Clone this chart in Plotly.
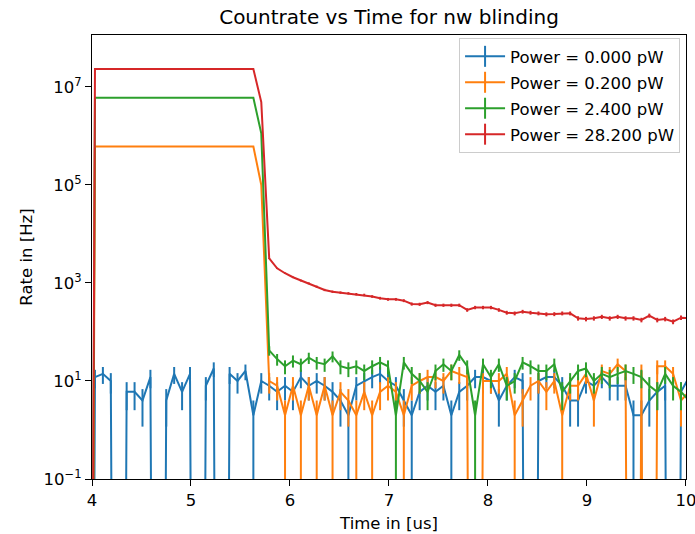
import numpy as np
import plotly.graph_objects as go

# Time bins (us): bin centres start just below 4 us and are 80 ns apart
BIN_START = 3.95
BIN_WIDTH = 0.08
HZ_PER_COUNT = 2.0          # rate contributed by a single detected count
LOG_FLOOR = 1e-30           # non-positive rates are clipped to this on the log axis

POWER_LABELS = ["Power = 0.000 pW", "Power = 0.200 pW",
                "Power = 2.400 pW", "Power = 28.200 pW"]
COLORS = ["#1f77b4", "#ff7f0e", "#2ca02c", "#d62728"]

# Detected counts per bin for each laser power
COUNTS_P0 = [0,
             6, 7, 5, 0, 3, 3, 2, 6, 0, 2, 7, 3, 7, 0, 4, 9, 0, 7, 5, 8, 1,
             5, 4, 3, 4, 3, 6, 4, 5, 4, 3, 2, 1, 4, 5, 6, 7, 5, 4, 2, 1,
             3, 4, 3, 4, 1, 3, 4, 6, 6, 5, 2, 4, 6, 5, 0, 5, 6, 6, 4, 2,
             2, 5, 4, 6, 4, 4, 4, 1, 1, 2, 3, 4, 0, 3, 6]

COUNTS_P1 = [0,
             305000, 305000, 305000, 305000, 305000, 305000, 305000,
             305000, 305000, 305000, 305000, 305000, 305000, 305000,
             305000, 305000, 305000, 305000, 305000, 305000, 305000,
             50000,
             5, 4, 1, 4, 1, 4, 1, 4, 1, 3, 2, 1, 3, 1, 3, 4, 3, 1,
             4, 5, 6, 6, 5, 8, 7, 6, 0, 5, 5, 5, 7, 1, 2, 4, 5, 3,
             5, 1, 4, 4, 7, 2, 8, 7, 11, 8, 0, 8, 0, 10, 10, 7, 2, 3]

COUNTS_P2 = [0,
             3000000, 3000000, 3000000, 3000000, 3000000, 3000000, 3000000,
             3000000, 3000000, 3000000, 3000000, 3000000, 3000000, 3000000,
             3000000, 3000000, 3000000, 3000000, 3000000, 3000000, 3000000,
             565000,
             21, 14, 10, 13, 11, 15, 12, 11, 16, 10, 9, 10, 8, 10, 12, 10,
             1, 12, 7, 5, 3, 8, 11, 8, 17, 10, 1, 11, 6, 11, 4, 5, 12, 10,
             8, 8, 11, 3, 5, 8, 9, 5, 7, 6, 7, 8, 7, 6, 4, 3, 7, 4, 3, 2]

COUNTS_P3 = [0,
             11650000, 11650000, 11650000, 11650000, 11650000, 11650000,
             11650000, 11650000, 11650000, 11650000, 11650000, 11650000,
             11650000, 11650000, 11650000, 11650000, 11650000, 11650000,
             11650000, 11650000, 11650000,
             2450000,
             1585, 995, 790, 655, 560, 492, 420, 360, 332, 318, 308, 295,
             285, 265, 245, 232, 232, 218, 186, 184, 199, 176, 176, 176,
             176, 141, 158, 158, 158, 141, 124, 120, 130, 124, 120, 115,
             116, 120, 120, 95, 92, 95, 102, 95, 102, 95, 95, 88, 108, 88,
             92, 81, 98, 95]

SERIES = [COUNTS_P0, COUNTS_P1, COUNTS_P2, COUNTS_P3]

Y_TICKS = [1e-1, 1e1, 1e3, 1e5, 1e7]
Y_TICK_TEXT = ["10<sup>\u22121</sup>", "10<sup>1</sup>", "10<sup>3</sup>",
               "10<sup>5</sup>", "10<sup>7</sup>"]
X_TICKS = [4, 5, 6, 7, 8, 9, 10]

fig = go.Figure()

for i, (counts, label, color) in enumerate(zip(SERIES, POWER_LABELS, COLORS)):
    n = np.asarray(counts, dtype=float)
    t = BIN_START + BIN_WIDTH * np.arange(n.size)
    rate = n * HZ_PER_COUNT
    err = np.sqrt(n) * HZ_PER_COUNT
    shown = np.where(rate > 0, rate, LOG_FLOOR)
    fig.add_trace(go.Scatter(
        x=t, y=shown, mode="lines",
        line=dict(color=color, width=2),
        error_y=dict(type="data", array=err, symmetric=True,
                     color=color, thickness=2, width=0),
        legendgroup=f"g{i}", showlegend=False, hoverinfo="skip",
    ))
    # legend entry: line with a vertical error-bar tick
    fig.add_trace(go.Scatter(
        x=[None], y=[None], mode="lines+markers", name=label,
        line=dict(color=color, width=2),
        marker=dict(symbol="line-ns-open", size=15,
                    line=dict(color=color, width=2)),
        legendgroup=f"g{i}", showlegend=True,
    ))

fig.update_layout(
    width=695, height=534,
    margin=dict(l=92, r=9, t=35, b=55, autoexpand=False),
    paper_bgcolor="white", plot_bgcolor="white",
    font=dict(family="DejaVu Sans", size=16.5, color="black"),
    title=dict(text="Countrate vs Time for nw blinding",
               x=0.5, xref="paper", xanchor="center",
               y=1 - 17 / 534, yanchor="middle",
               font=dict(size=20, color="black")),
    legend=dict(x=0.99, y=0.993, xanchor="right", yanchor="top",
                bgcolor="rgba(255,255,255,0.8)", bordercolor="#cccccc",
                borderwidth=1, tracegroupgap=1.5, itemwidth=40,
                font=dict(size=16.5, color="black")),
    showlegend=True,
)

axis_style = dict(
    showline=True, linecolor="black", linewidth=1.3, mirror=True,
    ticks="outside", ticklen=6, tickwidth=1.3, tickcolor="black",
    showgrid=False, zeroline=False, automargin=False,
    ticklabeloverflow="allow",
)

fig.update_xaxes(range=[4, 10.0005], tickvals=X_TICKS,
                 tickfont=dict(size=16.5),
                 title=dict(text="Time in [us]", standoff=8,
                            font=dict(size=16.5)), **axis_style)
fig.update_yaxes(type="log", range=[-1, 8.06],
                 tickvals=Y_TICKS, ticktext=Y_TICK_TEXT,
                 tickfont=dict(size=16.5),
                 title=dict(text="Rate in [Hz]", standoff=6,
                            font=dict(size=16.5)), **axis_style)

fig.write_html("out.html")
